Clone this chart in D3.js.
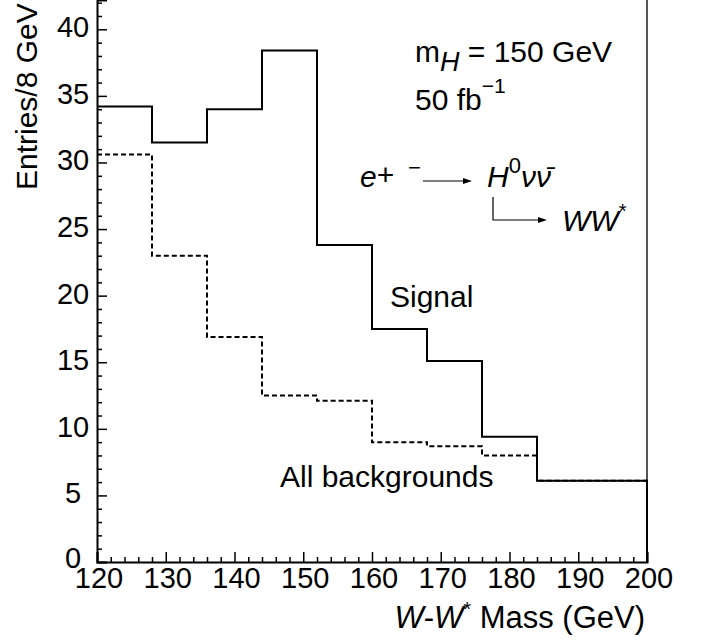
<!DOCTYPE html>
<html>
<head>
<meta charset="utf-8">
<script src="https://cdn.jsdelivr.net/npm/d3@7"></script>
<style>
  body { margin: 0; background: #fff; }
  svg text { font-family: "Liberation Sans", Arial, sans-serif; fill: #000; }
</style>
</head>
<body>
<div id="chart"></div>
<script>
// bin edges (8 GeV bins) and entries per bin
const binEdges = [120, 128, 136, 144, 152, 160, 168, 176, 184, 192, 200];
const signal = [34.2, 31.5, 34.0, 38.4, 23.8, 17.5, 15.1, 9.4, 6.1, 6.1];
const backgrounds = [30.6, 23.0, 16.9, 12.5, 12.1, 9.0, 8.7, 8.0, 6.1, 6.1];
const xTicks = [120, 130, 140, 150, 160, 170, 180, 190, 200];
const yTicks = [0, 5, 10, 15, 20, 25, 30, 35, 40];

const width = 705, height = 640;
const margin = { top: 0, right: 58, bottom: 78, left: 97 };
const fs = 29;   // tick labels
const fa = 30;   // titles and annotations

const svg = d3.select("#chart")
  .append("svg")
  .attr("width", width)
  .attr("height", height);

const x = d3.scaleLinear()
  .domain([120, 200])
  .range([margin.left, width - margin.right]);

const y = d3.scaleLinear()
  .domain([0, 42.2])
  .range([height - margin.bottom, margin.top]);

// step path through the bins, dropping to zero at the last edge
function stepPoints(vals) {
  const pts = vals.map((v, i) => [binEdges[i], v]);
  pts.push([binEdges[binEdges.length - 1], vals[vals.length - 1]]);
  pts.push([binEdges[binEdges.length - 1], 0]);
  return pts;
}

const line = d3.line()
  .x(d => x(d[0]))
  .y(d => y(d[1]))
  .curve(d3.curveStepAfter);

// right frame
svg.append("line")
  .attr("x1", x(200)).attr("x2", x(200))
  .attr("y1", y(42.2)).attr("y2", y(0))
  .attr("stroke", "#555").attr("stroke-width", 2);

svg.append("path")
  .datum(stepPoints(backgrounds))
  .attr("d", line)
  .attr("fill", "none")
  .attr("stroke", "#000")
  .attr("stroke-width", 2)
  .attr("stroke-dasharray", "5,3");

svg.append("path")
  .datum(stepPoints(signal))
  .attr("d", line)
  .attr("fill", "none")
  .attr("stroke", "#000")
  .attr("stroke-width", 2);

// axes, ticks pointing inward
const xMinor = d3.range(120, 201, 2).filter(v => v % 10 !== 0);
const yMinor = d3.range(0, 42.1, 1).filter(v => v % 5 !== 0);

const xAxis = svg.append("g").attr("transform", `translate(0,${y(0)})`);
xAxis.call(d3.axisBottom(x).tickValues(xTicks).tickSize(-10).tickPadding(0).tickFormat(""));
xAxis.append("g").call(d3.axisBottom(x).tickValues(xMinor).tickSize(-5).tickFormat(""))
  .select(".domain").remove();
xAxis.selectAll("path.domain").attr("stroke-width", 2);
xAxis.selectAll("line").attr("stroke-width", 1.5);
xAxis.selectAll(".lbl")
  .data(xTicks)
  .enter().append("text")
  .attr("x", d => x(d) + 2)
  .attr("y", 26)
  .attr("text-anchor", "middle")
  .style("font-size", fs + "px")
  .text(d => d);

const yAxis = svg.append("g").attr("transform", `translate(${x(120)},0)`);
yAxis.call(d3.axisLeft(y).tickValues(yTicks).tickSize(-10).tickFormat(""));
yAxis.append("g").call(d3.axisLeft(y).tickValues(yMinor).tickSize(-5).tickFormat(""))
  .select(".domain").remove();
yAxis.selectAll("path.domain").attr("stroke-width", 2);
yAxis.selectAll("line").attr("stroke-width", 1.5);
yAxis.selectAll(".lbl")
  .data(yTicks)
  .enter().append("text")
  .attr("x", -24)
  .attr("y", d => y(d) + (d === 0 ? 6 : 8))
  .attr("text-anchor", "middle")
  .style("font-size", fs + "px")
  .text(d => d);

// axis titles
const xTitle = svg.append("text")
  .attr("x", 645)
  .attr("y", 628)
  .attr("text-anchor", "end")
  .style("font-size", "31px");
xTitle.append("tspan").style("font-style", "italic").text("W");
xTitle.append("tspan").text("-");
xTitle.append("tspan").style("font-style", "italic").text("W");
xTitle.append("tspan").attr("dy", -12).style("font-size", "20px").text("*");
xTitle.append("tspan").attr("dy", 12).text(" Mass (GeV)");

svg.append("text")
  .attr("transform", "translate(37,190) rotate(-90)")
  .attr("text-anchor", "start")
  .style("font-size", fa + "px")
  .text("Entries/8 GeV");

// annotations
const mh = svg.append("text").attr("x", 415).attr("y", 62).style("font-size", fa + "px");
mh.append("tspan").text("m");
mh.append("tspan").attr("dy", 9).style("font-style", "italic").style("font-size", "27px").text("H");
mh.append("tspan").attr("dy", -9).text(" = 150 GeV");

const lum = svg.append("text").attr("x", 415).attr("y", 110).style("font-size", fa + "px");
lum.append("tspan").text("50 fb");
lum.append("tspan").attr("dy", -17).style("font-size", "21px").text("\u22121");

const proc = svg.append("text").attr("x", 360).attr("y", 187).style("font-size", fa + "px");
proc.append("tspan").style("font-style", "italic").text("e");
proc.append("tspan").attr("dy", -2).text("+");

svg.append("text").attr("x", 408).attr("y", 175).style("font-size", "22px").text("\u2212");

svg.append("line")
  .attr("x1", 423).attr("x2", 466).attr("y1", 181).attr("y2", 181)
  .attr("stroke", "#000").attr("stroke-width", 1.2);
svg.append("path").attr("d", "M472,181 L463,178 L463,184 Z").attr("fill", "#000");

const hv = svg.append("text").attr("x", 487).attr("y", 187).style("font-size", fa + "px");
hv.append("tspan").style("font-style", "italic").text("H");
hv.append("tspan").attr("dy", -14).style("font-size", "22px").text("0");
hv.append("tspan").attr("dy", 14).style("font-style", "italic").text("\u03bd\u03bd\u0304");

svg.append("path")
  .attr("d", "M493,197 V220 H541")
  .attr("fill", "none").attr("stroke", "#000").attr("stroke-width", 1.2);
svg.append("path").attr("d", "M547,220 L538,217 L538,223 Z").attr("fill", "#000");

const ww = svg.append("text").attr("x", 562).attr("y", 231).style("font-size", fa + "px");
ww.append("tspan").style("font-style", "italic").text("WW");
ww.append("tspan").attr("dy", -13).style("font-size", "20px").text("*");

svg.append("text").attr("x", 390).attr("y", 307).style("font-size", fa + "px").text("Signal");
svg.append("text").attr("x", 280).attr("y", 487).style("font-size", fa + "px").text("All backgrounds");
</script>
</body>
</html>
